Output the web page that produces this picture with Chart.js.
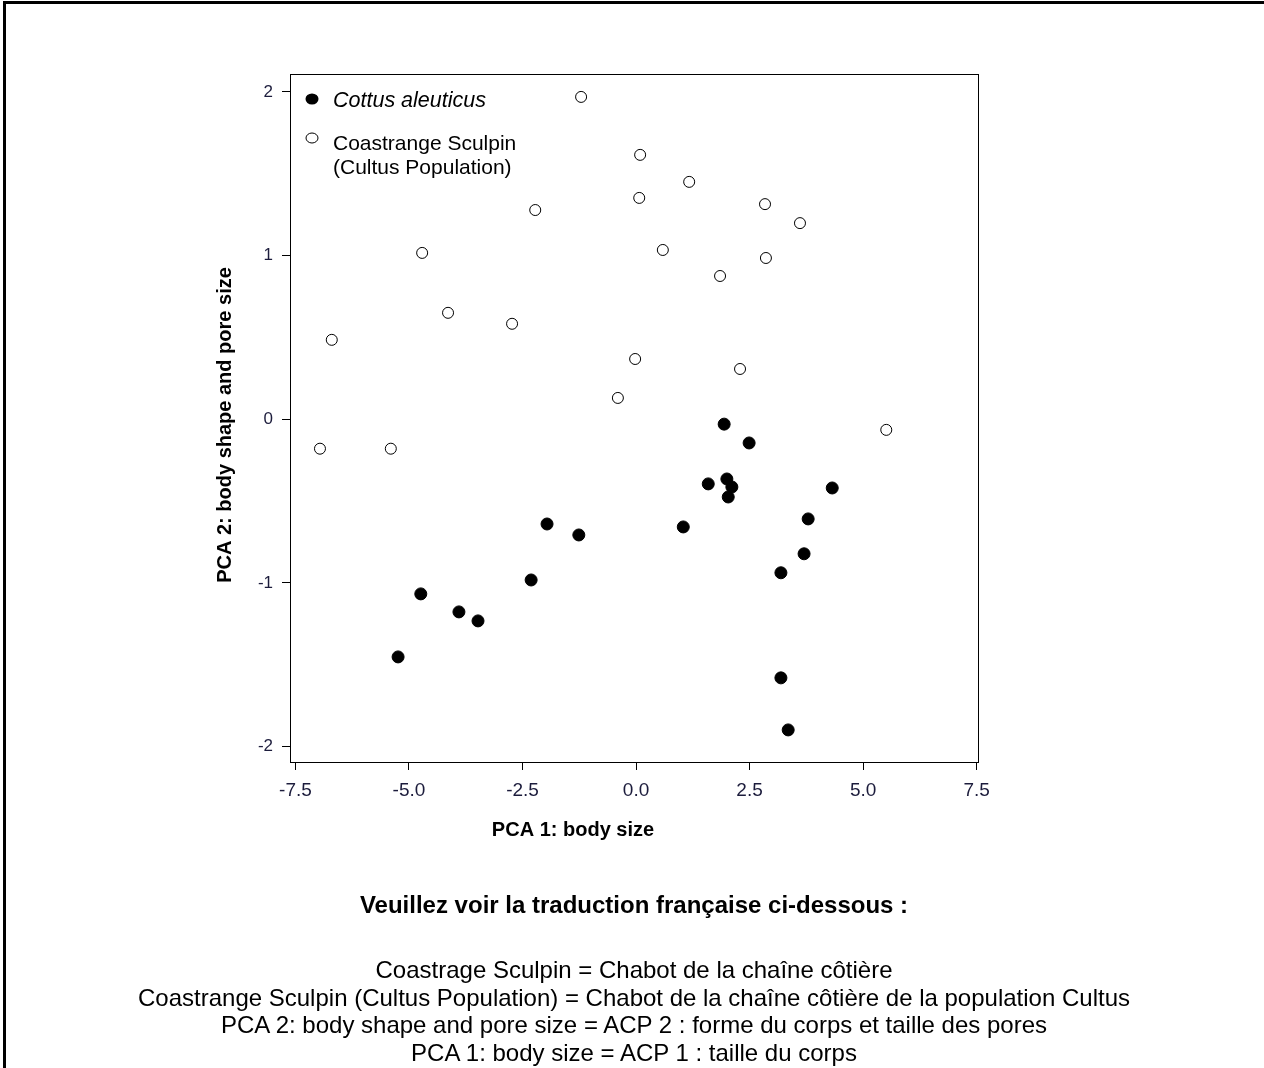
<!DOCTYPE html>
<html>
<head>
<meta charset="utf-8">
<script src="https://cdn.jsdelivr.net/npm/chart.js@4.4.1/dist/chart.umd.min.js"></script>
<style>
  html, body { margin: 0; padding: 0; background: #fff; }
  body { width: 1264px; height: 1068px; position: relative; overflow: hidden; font-family: "Liberation Sans", Arial, sans-serif; }
  #frame { position: absolute; left: 3px; top: 1px; width: 1270px; height: 1100px; border-left: 3px solid #000; border-top: 3px solid #000; }
  #chart { position: absolute; left: 0; top: 0; }
  .note { position: absolute; left: 0; width: 1268px; text-align: center; color: #000; font-size: 24px; }
  #heading { top: 891px; font-weight: bold; line-height: 28px; }
  #lines { top: 956px; line-height: 27.5px; }
</style>
</head>
<body>
<div id="frame"></div>
<canvas id="chart" width="1264" height="1068"></canvas>
<div class="note" id="heading">Veuillez voir la traduction française ci-dessous :</div>
<div class="note" id="lines">
  Coastrage Sculpin = Chabot de la chaîne côtière<br>
  Coastrange Sculpin (Cultus Population) = Chabot de la chaîne côtière de la population Cultus<br>
  PCA 2: body shape and pore size = ACP 2 : forme du corps et taille des pores<br>
  PCA 1: body size = ACP 1 : taille du corps
</div>
<script>
// data
const cottusX = [1.94, 2.49, 1.59, 2.00, 2.11, 2.03, 4.32, 1.04, 3.79, 3.70, 3.19, -1.96, -1.26, -2.31, -4.74, -3.90, -3.48, -5.24, 3.19, 3.35];
const cottusY = [-0.03, -0.145, -0.395, -0.365, -0.414, -0.475, -0.42, -0.658, -0.609, -0.822, -0.938, -0.64, -0.707, -0.982, -1.067, -1.177, -1.232, -1.452, -1.58, -1.898];
const cultusX = [-1.21, 0.09, 1.17, 0.07, -2.22, 2.84, 3.61, -4.71, 0.59, 1.85, 2.86, -4.14, -2.73, -6.70, -0.02, 2.29, -0.40, -6.96, -5.40, 5.51];
const cultusY = [1.969, 1.615, 1.45, 1.352, 1.278, 1.314, 1.198, 1.016, 1.034, 0.875, 0.985, 0.65, 0.583, 0.485, 0.368, 0.307, 0.13, -0.18, -0.18, -0.065];
const xTicks = [-7.5, -5.0, -2.5, 0.0, 2.5, 5.0, 7.5];
const yTicks = [-2, -1, 0, 1, 2];
const seriesNames = ["Cottus aleuticus", "Coastrange Sculpin", "(Cultus Population)"];
const xTitle = "PCA 1: body size";
const yTitle = "PCA 2: body shape and pore size";

const toPoints = (xs, ys) => xs.map((x, i) => ({ x: x, y: ys[i] }));
const tickColor = "#1c1c3c";

// box round the plot, legend and axis titles
const decor = {
    id: "decor",
    afterDraw(chart) {
        const ctx = chart.ctx;
        const a = chart.chartArea;
        ctx.save();
        ctx.strokeStyle = "#000";
        ctx.lineWidth = 1;
        ctx.strokeRect(Math.round(a.left) + 0.5, Math.round(a.top) + 0.5, Math.round(a.right - a.left), Math.round(a.bottom - a.top));

        // legend
        ctx.fillStyle = "#000";
        ctx.beginPath();
        ctx.ellipse(312, 99, 6.5, 5.5, 0, 0, Math.PI * 2);
        ctx.fill();
        ctx.beginPath();
        ctx.ellipse(312, 138, 6, 5, 0, 0, Math.PI * 2);
        ctx.fillStyle = "#fff";
        ctx.fill();
        ctx.stroke();
        ctx.fillStyle = "#000";
        ctx.textBaseline = "middle";
        ctx.textAlign = "left";
        ctx.font = "italic 21.5px 'Liberation Sans', Arial";
        ctx.fillText(seriesNames[0], 333, 101);
        ctx.font = "21px 'Liberation Sans', Arial";
        ctx.fillText(seriesNames[1], 333, 144);
        ctx.fillText(seriesNames[2], 333, 168);

        // axis titles
        ctx.font = "bold 20px 'Liberation Sans', Arial";
        ctx.textAlign = "center";
        ctx.fillText(xTitle, 573, 830);
        ctx.translate(225, 425);
        ctx.rotate(-Math.PI / 2);
        ctx.fillText(yTitle, 0, 0);
        ctx.restore();
    }
};

const chart = new Chart(document.getElementById("chart"), {
    type: "scatter",
    data: {
        datasets: [
            {
                label: seriesNames[0],
                data: toPoints(cottusX, cottusY),
                backgroundColor: "#000",
                borderColor: "#000",
                pointRadius: 6,
                pointBorderWidth: 1,
            },
            {
                label: seriesNames[1] + " " + seriesNames[2],
                data: toPoints(cultusX, cultusY),
                backgroundColor: "#fff",
                borderColor: "#000",
                pointRadius: 5.5,
                pointBorderWidth: 1,
            },
        ],
    },
    options: {
        responsive: false,
        animation: false,
        events: [],
        layout: { autoPadding: false, padding: { left: 200, top: 74, right: 286, bottom: 216 } },
        plugins: {
            legend: { display: false },
            tooltip: { enabled: false },
        },
        scales: {
            x: {
                type: "linear",
                min: -7.62,
                max: 7.53,
                afterBuildTicks: (s) => { s.ticks = xTicks.map((v) => ({ value: v })); },
                afterFit: (s) => { s.height = 90; },
                ticks: {
                    padding: 9,
                    color: tickColor,
                    font: { family: "'Liberation Sans', Arial", size: 19 },
                    callback: (v) => v.toFixed(1),
                },
                grid: { drawOnChartArea: false, tickLength: 8, color: "#000" },
                border: { color: "#000", width: 1 },
            },
            y: {
                type: "linear",
                min: -2.094,
                max: 2.109,
                afterBuildTicks: (s) => { s.ticks = yTicks.map((v) => ({ value: v })); },
                afterFit: (s) => { s.width = 90; },
                ticks: {
                    padding: 9,
                    color: tickColor,
                    font: { family: "'Liberation Sans', Arial", size: 17 },
                    callback: (v) => String(v),
                },
                grid: { drawOnChartArea: false, tickLength: 8, color: "#000" },
                border: { color: "#000", width: 1 },
            },
        },
    },
    plugins: [decor],
});
</script>
</body>
</html>
